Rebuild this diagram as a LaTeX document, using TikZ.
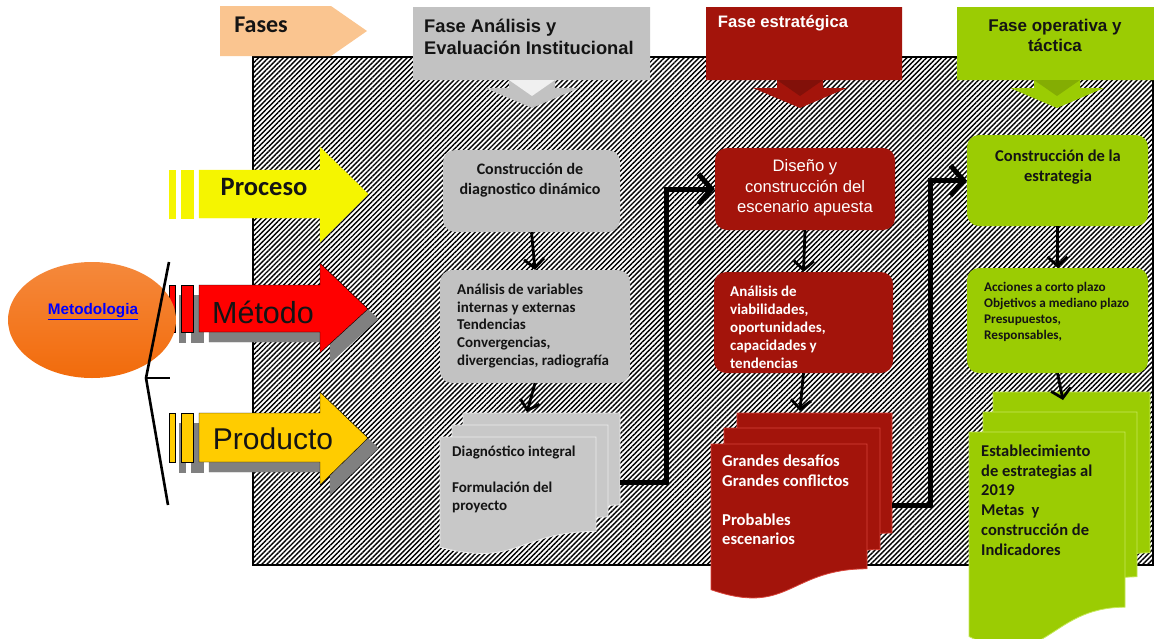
\documentclass[tikz,border=0pt]{standalone}
\usepackage{fontspec}
\setmainfont{Carlito}
\newfontfamily\arialf{Liberation Sans}
\usetikzlibrary{arrows.meta,patterns.meta,shapes.geometric}
\definecolor{peach}{HTML}{FAC590}
\definecolor{hgray}{HTML}{C2C2C2}
\definecolor{dgray}{HTML}{C8C8C8}
\definecolor{dred}{HTML}{A3140B}
\definecolor{lred}{HTML}{D8443A}
\definecolor{lgreen}{HTML}{9BCC03}
\definecolor{hgreen}{HTML}{C6E85A}
\definecolor{yel}{HTML}{F5F500}
\definecolor{mred}{HTML}{FF0000}
\definecolor{gold}{HTML}{FFCC00}
\definecolor{orng}{HTML}{F26B0B}
\definecolor{linkblue}{HTML}{0000FF}
\definecolor{shad}{HTML}{808080}
\definecolor{txt}{HTML}{141414}
\newcommand\mycallout[5]{%
  \fill[#4] (#1,7) -- (#2,7) -- (#2,80) -- ({#3+23},80) -- ({#3+23},88) -- ({#3+47},88) -- (#3,108) -- ({#3-47},88) -- ({#3-23},88) -- ({#3-23},80) -- (#1,80) -- cycle;
  \fill[#5] ({#3-23},80) -- ({#3+23},80) -- (#3,96) -- cycle;}
\newcommand\fatarrow[7]{%
  \path[fill=#1,draw=#2] (169,#3) rectangle (175,#4);
  \path[fill=#1,draw=#2] (181,#3) rectangle (193,#4);
  \path[fill=#1,draw=#2] (199,#3) -- (320,#3) -- (320,#5) -- (368,#7) -- (320,#6) -- (320,#4) -- (199,#4) -- cycle;}
\newcommand\docpath[6]{%
  \path[fill=#5,draw=#6,line width=0.8pt] (#1,#2) -- (#3,#2) -- (#3,{#2+0.8*#4}) .. controls ({(#1+#3)/2},{#2+0.8*#4}) and ({(#1+#3)/2},{#2+1.107*#4}) .. (#1,{#2+0.934*#4}) -- cycle;}
\begin{document}
\begin{tikzpicture}[x=1pt,y=-1pt,
  box/.style={rounded corners=12pt, draw=none, inner sep=0pt},
  dn/.style={line width=2.8pt, -{Straight Barb[length=9pt,width=20pt]}},
  elb/.style={line width=5pt, line join=miter, -{Straight Barb[length=13pt,width=30pt]}},
  bodytxt/.style={font=\bfseries\fontsize{15}{18}\selectfont, align=left, inner sep=0pt}]
\useasboundingbox (0,0) rectangle (1154,638);
% hatched background
\path[fill=white] (253,57) rectangle (1153,565);
\path[pattern={Lines[angle=45,distance=3.5pt,line width=1.4pt]}, pattern color=black] (253,57) rectangle (1153,565);
\draw[line width=1.5pt] (253,57) rectangle (1153,565);
% Fases arrow
\fill[peach] (220,6) -- (331,6) -- (367,31) -- (331,56) -- (220,56) -- cycle;
\node[font=\bfseries\fontsize{24}{24}\selectfont, text=txt] (fases) at (261,25) {Fases};
% phase callouts
\mycallout{413}{650}{532}{hgray}{white!88!gray}
\mycallout{706}{902}{800}{dred}{dred!80!black}
\mycallout{957}{1154}{1057}{lgreen}{lgreen!85!black}
\node[font=\arialf\bfseries\fontsize{18.3}{21.5}\selectfont, align=left, anchor=west, text=txt, inner sep=0pt] (fa) at (424,37) {Fase Análisis y\\Evaluación Institucional};
\node[font=\arialf\bfseries\fontsize{16.6}{20}\selectfont, text=white] (fe) at (783,23) {Fase estratégica};
\node[font=\arialf\bfseries\fontsize{17}{20}\selectfont, align=center, text=txt] (fo) at (1055,35) {Fase operativa y\\táctica};
% left arrows
\fatarrow{yel}{yel}{170}{218}{147}{242}{194}
\begin{scope}[shift={(10,10)}]
\fatarrow{shad}{shad}{285}{332}{263}{353}{309}
\fatarrow{shad}{shad}{413}{462}{392}{485}{438}
\end{scope}
\fatarrow{mred}{black}{285}{332}{263}{353}{309}
\fatarrow{gold}{black}{413}{462}{392}{485}{438}
\node[font=\bfseries\fontsize{26.5}{26}\selectfont, text=txt] (proc) at (264,187) {Proceso};
\node[font=\arialf\fontsize{30.5}{30}\selectfont, text=txt] (meto) at (263,312) {Método};
\node[font=\arialf\fontsize{30}{30}\selectfont, text=txt] (prod) at (273,439) {Producto};
% Metodologia
\node[ellipse, minimum width=168pt, minimum height=116pt, top color=orng!80!white, bottom color=orng, draw=none] (met) at (92,320) {};
\node[font=\arialf\bfseries\fontsize{15.3}{15}\selectfont, text=linkblue] (mett) at (93,312) {\underline{Metodologia}};
\draw[line width=2.6pt] (169,262) -- (146,378) -- (168,505);
\draw[line width=2.6pt] (146,378) -- (170,378);
% column 1 (gray)
\node[box, fill=hgray, minimum width=177pt, minimum height=82pt] (g1) at (531.5,191) {};
\node[font=\bfseries\fontsize{16}{20}\selectfont, align=center, text=txt] (g1t) at (530,180) {Construcción de\\diagnostico dinámico};
\node[box, fill=hgray, minimum width=190pt, minimum height=113pt] (g2) at (535,326.5) {};
\node[bodytxt, anchor=west, text=txt] (g2t) at (457,326) {Análisis de variables\\internas y externas\\Tendencias\\Convergencias,\\divergencias, radiografía};
\docpath{463}{413}{620}{115}{dgray}{white!85!gray}
\docpath{452}{425}{608}{115}{dgray}{white!85!gray}
\docpath{440}{437}{596}{118}{dgray}{white!85!gray}
\coordinate (d1) at (620,482);
\node[bodytxt, anchor=west, text=txt] (d1t) at (452,479) {Diagnóstico integral\\[18pt]Formulación del\\proyecto};
\draw[dn] (g1.south) -- (g2.north);
\draw[dn] (g2.south) -- (527,412);
% column 2 (red)
\node[box, fill=dred, minimum width=180pt, minimum height=82pt] (r1) at (805,189) {};
\node[font=\arialf\fontsize{16.6}{20.5}\selectfont, align=center, text=white] (r1t) at (805,188) {Diseño y\\construcción del\\escenario apuesta};
\node[box, fill=dred, minimum width=179pt, minimum height=101pt] (r2) at (803.5,322.5) {};
\node[bodytxt, anchor=west, text=white] (r2t) at (730,327) {Análisis de\\viabilidades,\\oportunidades,\\capacidades y\\tendencias};
\docpath{737}{413}{892}{150}{dred}{lred}
\docpath{724}{428}{880}{152}{dred}{lred}
\docpath{711}{444}{867}{156}{dred}{lred}
\coordinate (d2) at (892,505);
\node[font=\bfseries\fontsize{16.6}{19.6}\selectfont, align=left, inner sep=0pt, anchor=west, text=white] (d2t) at (722,500) {Grandes desafíos\\Grandes conflictos\\[19.6pt]Probables\\escenarios};
\draw[dn] (r1.south) -- (r2.north);
\draw[dn] (r2.south) -- (800,411);
% column 3 (green)
\node[box, fill=lgreen, minimum width=181pt, minimum height=91pt] (v1) at (1057.5,180.5) {};
\node[font=\bfseries\fontsize{16.5}{20}\selectfont, align=center, text=txt] (v1t) at (1058,167) {Construcción de la\\estrategia};
\node[box, fill=lgreen, minimum width=181pt, minimum height=105pt] (v2) at (1057.5,320.5) {};
\node[font=\bfseries\fontsize{13.2}{16}\selectfont, align=left, inner sep=0pt, anchor=west, text=txt] (v2t) at (984,312) {Acciones a corto plazo\\Objetivos a mediano plazo\\Presupuestos,\\Responsables,};
\docpath{993}{392}{1150}{201}{lgreen}{hgreen}
\docpath{983}{412}{1137}{206}{lgreen}{hgreen}
\docpath{969}{432}{1125}{219}{lgreen}{hgreen}
\node[font=\bfseries\fontsize{16.5}{19.8}\selectfont, align=left, inner sep=0pt, anchor=west, text=txt] (d3t) at (981,500) {Establecimiento\\de estrategias al\\2019\\Metas\ \ y\\construcción de\\Indicadores};
\draw[dn] (v1.south) -- (v2.north);
\draw[dn] (v2.south) -- (1063,400);
% elbow connectors
\draw[elb] (d1) -- ++(46,0) |- (r1.west);
\draw[elb] (d2) -- ++(38,0) |- (v1.west);
\end{tikzpicture}
\end{document}
